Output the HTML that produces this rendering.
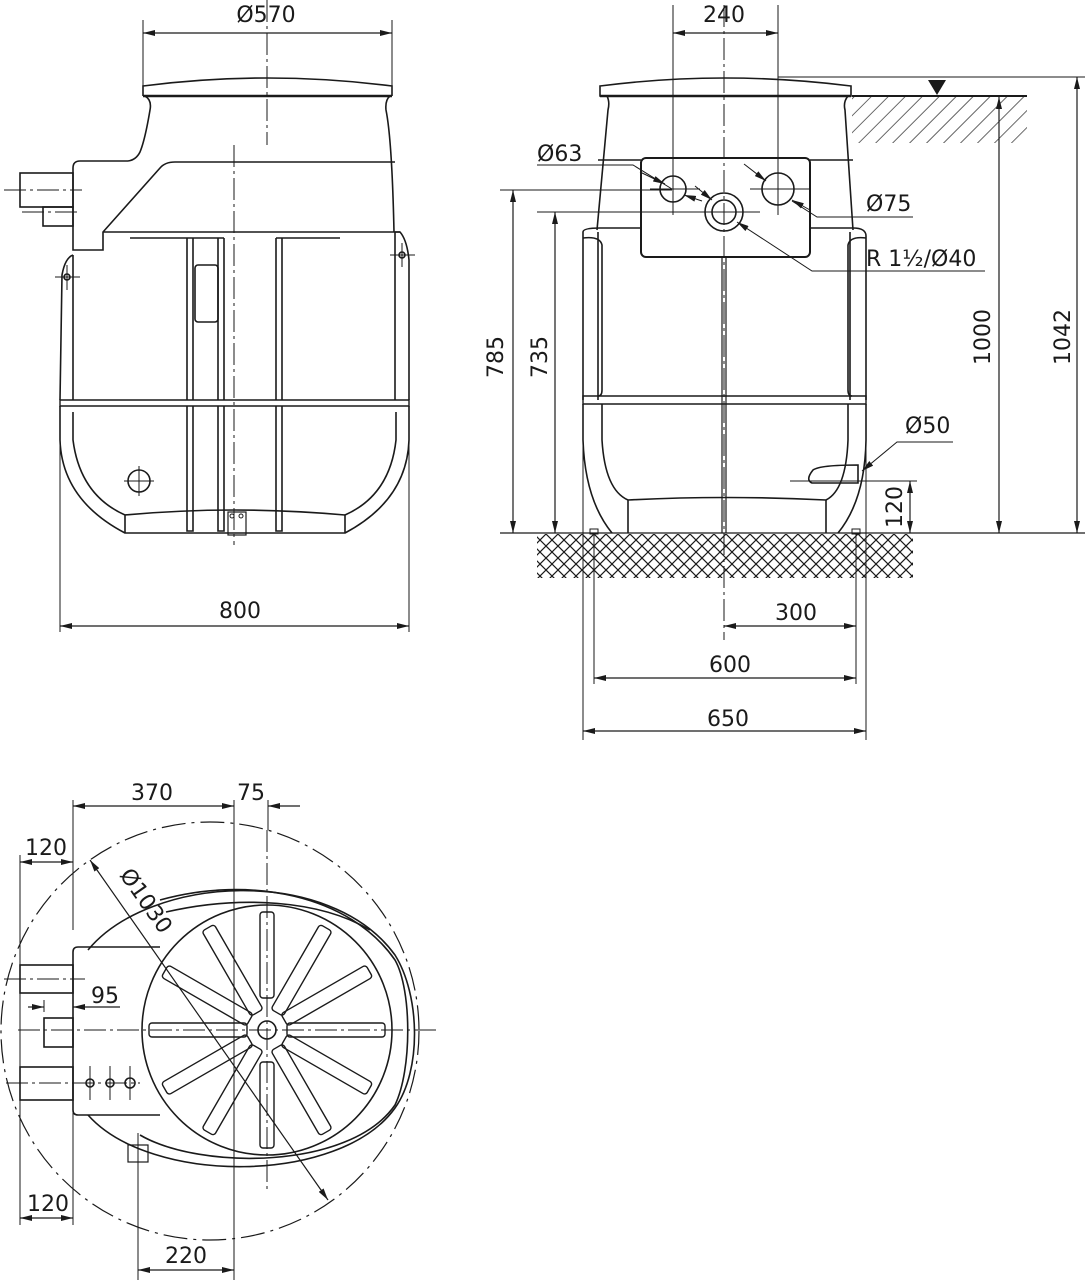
<!DOCTYPE html>
<html><head><meta charset="utf-8"><style>
html,body{margin:0;padding:0;background:#fff}
svg{display:block}
text{font-family:"DejaVu Sans","Liberation Sans",sans-serif;font-size:22px;fill:#1a1a1a}
</style></head><body>
<svg width="1085" height="1280" viewBox="0 0 1085 1280" xmlns="http://www.w3.org/2000/svg">
<defs>
<marker id="a" viewBox="0 0 12 6" refX="12" refY="3" markerWidth="12" markerHeight="6" markerUnits="userSpaceOnUse" orient="auto-start-reverse"><path d="M0,0L12,3L0,6z" fill="#1a1a1a"/></marker>
<pattern id="hx" width="12" height="12" patternUnits="userSpaceOnUse"><path d="M0,0L12,12M12,0L0,12" stroke="#1a1a1a" stroke-width="1.2"/></pattern>
<pattern id="hd" width="12" height="12" patternUnits="userSpaceOnUse" patternTransform="rotate(45)"><path d="M0,0V12" stroke="#1a1a1a" stroke-width="1.3"/></pattern>
</defs>
<g fill="none" stroke="#1a1a1a" stroke-width="1.6">
<!-- ============ LEFT FRONT VIEW ============ -->
<!-- dim 570 -->
<line x1="143" y1="20" x2="143" y2="95" stroke-width="1"/><line x1="392" y1="20" x2="392" y2="95" stroke-width="1"/>
<line x1="143" y1="33" x2="392" y2="33" stroke-width="1.2" marker-start="url(#a)" marker-end="url(#a)"/>
<!-- lid -->
<path d="M143,96 L143,86 Q267,70 392,86 L392,96"/>
<line x1="143" y1="96" x2="392" y2="96" stroke-width="2.4"/>
<path d="M145,96 Q152,100 150,110 Q145,140 140,152 Q136,160 128,161 M390,96 Q385,100 386,110 Q392,140 394,232"/>
<!-- body top block -->
<path d="M128,161 L80,161 Q73,161 73,168 L73,250 L103,250 L103,232 L160,168 Q165,162 175,162 L395,162"/>
<line x1="103" y1="232" x2="400" y2="232"/>
<rect x="20" y="173" width="53" height="34"/><rect x="43" y="207" width="30" height="19"/>
<!-- side flanges -->
<path d="M73,255 Q65,258 62,275 L60,400 M73,255 L73,400"/>
<path d="M395,232 L400,232 Q407,240 409,260 L409,400 M395,232 L395,400"/>
<!-- belt -->
<path d="M60,400 L409,400 L409,406 L60,406 Z" stroke-width="1.4"/>
<!-- ribs -->
<line x1="130" y1="238" x2="187" y2="238"/><line x1="282" y1="238" x2="340" y2="238"/>
<path d="M187,238V400M193,238V400M218,238V400M224,238V400M276,238V400M282,238V400M187,238H224M276,238H282"/>
<path d="M187,406V531H193V406M218,406V531H224V406M276,406V531H282V406"/>
<rect x="195" y="265" width="23" height="57" rx="3"/>
<!-- bowl -->
<path d="M60,406 L60,440 Q62,500 125,533 L345,533 Q407,500 409,440 L409,406"/>
<path d="M73,412 L73,440 Q80,495 125,515 L125,533 M396,412 L396,440 Q390,495 345,515 L345,533"/>
<path d="M125,515 Q234,505 345,515"/>
<circle cx="139" cy="481" r="11"/><path d="M124,481H154M139,466V496" stroke-width="1"/>
<rect x="228" y="512" width="18" height="23" stroke-width="1.2"/>
<circle cx="232" cy="516" r="2" stroke-width="1"/><circle cx="241" cy="516" r="2" stroke-width="1"/>
<!-- handles -->
<circle cx="67" cy="277" r="3"/><path d="M55,277H80M67,265V290" stroke-width="1"/>
<circle cx="402" cy="255" r="3"/><path d="M390,255H415M402,243V267" stroke-width="1"/>
<!-- centerlines -->
<path d="M267,0V145M234,145V545M4,190H82M22,212H78" stroke-width="1" stroke-dasharray="22,4,3,4"/>
<!-- dim 800 -->
<path d="M60,406V632M409,406V632" stroke-width="1"/>
<line x1="60" y1="626" x2="409" y2="626" stroke-width="1.2" marker-start="url(#a)" marker-end="url(#a)"/>

<!-- ============ RIGHT SIDE VIEW ============ -->
<rect x="852" y="97" width="175" height="46" fill="url(#hd)" stroke="none"/>
<rect x="537" y="534" width="376" height="44" fill="url(#hx)" stroke="none"/>
<line x1="778" y1="77" x2="1085" y2="77" stroke-width="1"/>
<line x1="852" y1="96" x2="1027" y2="96" stroke-width="2"/>
<path d="M928,80L946,80L937,95z" fill="#1a1a1a" stroke="none"/>
<line x1="500" y1="533" x2="1085" y2="533" stroke-width="1.2"/>
<!-- dim 240 -->
<path d="M673,5V215M778,5V215" stroke-width="1"/>
<line x1="673" y1="33" x2="778" y2="33" stroke-width="1.2" marker-start="url(#a)" marker-end="url(#a)"/>
<!-- lid -->
<path d="M600,96 L600,86 Q724,70 851,86 L851,96 Z"/>
<line x1="600" y1="96" x2="851" y2="96" stroke-width="2.4"/>
<path d="M607,96 Q610,102 608,110 L597,230 M848,96 Q843,102 845,110 L853,230"/>
<line x1="598" y1="160" x2="641" y2="160"/><line x1="810" y1="160" x2="853" y2="160"/>
<!-- inlet box -->
<rect x="641" y="158" width="169" height="99" rx="5" stroke-width="2"/>
<circle cx="673" cy="189" r="13"/><circle cx="778" cy="189" r="16"/>
<circle cx="724" cy="212" r="19"/><circle cx="724" cy="212" r="12"/>
<!-- body -->
<path d="M583,232 L583,400 M598,232 L598,400 M583,232 Q583,228 600,228 L641,228 M810,228 L853,228 Q866,228 866,236 L866,400 M850,232 L850,400"/>
<path d="M583,238 Q600,236 602,245 L602,390 Q602,396 598,396 M866,238 Q850,236 848,245 L848,390 Q848,396 852,396"/>
<path d="M583,396 L866,396 L866,404 L583,404 Z" stroke-width="1.4"/>
<path d="M722,257V533M726,257V533" stroke-width="1.2"/>
<path d="M583,404 L583,440 Q585,500 612,533 M602,404 L602,440 Q605,490 628,500 L628,533 M628,500 Q724,495 826,500 L826,533 M866,404 L866,440 Q865,500 838,533 M848,404 L848,440 Q846,490 826,500"/>
<path d="M813,470 Q820,465 858,465 L858,483 L812,483 Q805,480 813,470Z"/>
<rect x="590" y="529" width="8" height="5" stroke-width="1"/><rect x="852" y="529" width="8" height="5" stroke-width="1"/>
<!-- centerline -->
<path d="M724,5V640" stroke-width="1" stroke-dasharray="22,4,3,4"/>
<path d="M650,189H700M750,189H810M690,212H760" stroke-width="1"/>
<!-- left dims -->
<line x1="500" y1="190" x2="672" y2="190" stroke-width="1"/>
<line x1="537" y1="212" x2="705" y2="212" stroke-width="1"/>
<line x1="513" y1="190" x2="513" y2="533" stroke-width="1.2" marker-start="url(#a)" marker-end="url(#a)"/>
<line x1="555" y1="212" x2="555" y2="533" stroke-width="1.2" marker-start="url(#a)" marker-end="url(#a)"/>
<line x1="999" y1="97" x2="999" y2="533" stroke-width="1.2" marker-start="url(#a)" marker-end="url(#a)"/>
<line x1="1077" y1="77" x2="1077" y2="533" stroke-width="1.2" marker-start="url(#a)" marker-end="url(#a)"/>
<line x1="790" y1="481" x2="917" y2="481" stroke-width="1"/>
<line x1="910" y1="481" x2="910" y2="533" stroke-width="1.2" marker-start="url(#a)" marker-end="url(#a)"/>
<!-- leaders -->
<path d="M537,165 L633,165 L672,189" stroke-width="1"/>
<line x1="640" y1="172" x2="665" y2="184" stroke-width="1" marker-end="url(#a)"/>
<line x1="702" y1="201" x2="684" y2="195" stroke-width="1" marker-end="url(#a)"/>
<path d="M744,164 L766,181" stroke-width="1" marker-end="url(#a)"/>
<path d="M913,217 L817,217 L792,201" stroke-width="1"/><line x1="810" y1="210" x2="792" y2="200" stroke-width="1" marker-end="url(#a)"/>
<path d="M985,271 L812,271 L737,222" stroke-width="1" marker-end="url(#a)"/>
<line x1="695" y1="186" x2="712" y2="200" stroke-width="1" marker-end="url(#a)"/>
<path d="M953,442 L897,442 L862,471" stroke-width="1" marker-end="url(#a)"/>
<!-- bottom dims -->
<path d="M583,404V740M866,404V740M594,534V684M856,534V684" stroke-width="1"/>
<line x1="724" y1="626" x2="856" y2="626" stroke-width="1.2" marker-start="url(#a)" marker-end="url(#a)"/>
<line x1="594" y1="678" x2="856" y2="678" stroke-width="1.2" marker-start="url(#a)" marker-end="url(#a)"/>
<line x1="583" y1="731" x2="866" y2="731" stroke-width="1.2" marker-start="url(#a)" marker-end="url(#a)"/>

<!-- ============ BOTTOM PLAN VIEW ============ -->
<circle cx="210" cy="1031" r="209" stroke-width="1.2" stroke-dasharray="24,6,3,6"/>
<path d="M88,950 C150,875 330,865 395,955 C420,995 422,1070 395,1108 C340,1185 150,1185 88,1115"/>
<path d="M160,900 C250,875 350,895 395,960 C412,990 412,1070 395,1105 C350,1170 200,1170 140,1135"/>
<path d="M166,912 C240,895 320,900 370,930"/>
<circle cx="267" cy="1030" r="125"/>
<circle cx="267" cy="1030" r="9"/>
<g stroke-width="1.4">
<rect x="287" y="1023" width="98" height="14" rx="3" transform="rotate(0 267 1030)"/>
<rect x="287" y="1023" width="98" height="14" rx="3" transform="rotate(30 267 1030)"/>
<rect x="287" y="1023" width="98" height="14" rx="3" transform="rotate(60 267 1030)"/>
<rect x="299" y="1023" width="86" height="14" rx="3" transform="rotate(90 267 1030)"/>
<rect x="287" y="1023" width="98" height="14" rx="3" transform="rotate(120 267 1030)"/>
<rect x="287" y="1023" width="98" height="14" rx="3" transform="rotate(150 267 1030)"/>
<rect x="287" y="1023" width="98" height="14" rx="3" transform="rotate(180 267 1030)"/>
<rect x="287" y="1023" width="98" height="14" rx="3" transform="rotate(210 267 1030)"/>
<rect x="287" y="1023" width="98" height="14" rx="3" transform="rotate(240 267 1030)"/>
<rect x="299" y="1023" width="86" height="14" rx="3" transform="rotate(270 267 1030)"/>
<rect x="287" y="1023" width="98" height="14" rx="3" transform="rotate(300 267 1030)"/>
<rect x="287" y="1023" width="98" height="14" rx="3" transform="rotate(330 267 1030)"/>
</g>
<!-- left box -->
<path d="M160,947 L78,947 Q73,947 73,952 L73,1110 Q73,1115 78,1115 L160,1115"/>
<rect x="20" y="965" width="53" height="28"/><rect x="44" y="1018" width="29" height="29"/><rect x="20" y="1067" width="53" height="33"/>
<rect x="128" y="1145" width="20" height="17" stroke-width="1.2"/>
<circle cx="90" cy="1083" r="4"/><circle cx="110" cy="1083" r="4"/><circle cx="130" cy="1083" r="5"/>
<path d="M90,1066V1100M110,1066V1100M130,1066V1100" stroke-width="1"/>
<path d="M18,1030H436M267,830V1190M4,979H85M6,1083H140" stroke-width="1" stroke-dasharray="22,4,3,4"/>
<!-- dims -->
<path d="M73,800V930M73,1095V1225M234,800V1280M268,800V830M20,855V1225M138,1133V1280M44,1000V1012" stroke-width="1"/>
<line x1="73" y1="806" x2="234" y2="806" stroke-width="1.2" marker-start="url(#a)" marker-end="url(#a)"/>
<line x1="300" y1="806" x2="268" y2="806" stroke-width="1.2" marker-end="url(#a)"/>
<line x1="20" y1="862" x2="73" y2="862" stroke-width="1.2" marker-start="url(#a)" marker-end="url(#a)"/>
<line x1="20" y1="1218" x2="73" y2="1218" stroke-width="1.2" marker-start="url(#a)" marker-end="url(#a)"/>
<line x1="28" y1="1007" x2="44" y2="1007" stroke-width="1.2" marker-end="url(#a)"/>
<line x1="120" y1="1007" x2="73" y2="1007" stroke-width="1.2" marker-end="url(#a)"/>
<line x1="138" y1="1270" x2="234" y2="1270" stroke-width="1.2" marker-start="url(#a)" marker-end="url(#a)"/>
<line x1="90" y1="860" x2="328" y2="1200" stroke-width="1.2" marker-start="url(#a)" marker-end="url(#a)"/>
</g>
<!-- texts -->
<text x="266" y="22" text-anchor="middle">Ø570</text>
<text x="240" y="618" text-anchor="middle">800</text>
<text x="724" y="22" text-anchor="middle">240</text>
<text x="537" y="161">Ø63</text>
<text x="866" y="211">Ø75</text>
<text x="866" y="266">R 1½/Ø40</text>
<text x="905" y="433">Ø50</text>
<text x="796" y="620" text-anchor="middle">300</text>
<text x="730" y="672" text-anchor="middle">600</text>
<text x="728" y="726" text-anchor="middle">650</text>
<text transform="translate(503,357) rotate(-90)" text-anchor="middle">785</text>
<text transform="translate(547,357) rotate(-90)" text-anchor="middle">735</text>
<text transform="translate(990,337) rotate(-90)" text-anchor="middle">1000</text>
<text transform="translate(1070,337) rotate(-90)" text-anchor="middle">1042</text>
<text transform="translate(902,507) rotate(-90)" text-anchor="middle">120</text>
<text x="152" y="800" text-anchor="middle">370</text>
<text x="251" y="800" text-anchor="middle">75</text>
<text x="46" y="855" text-anchor="middle">120</text>
<text x="48" y="1211" text-anchor="middle">120</text>
<text x="105" y="1003" text-anchor="middle">95</text>
<text x="186" y="1263" text-anchor="middle">220</text>
<text transform="translate(140,905) rotate(55)" text-anchor="middle">Ø1030</text>
</svg>
</body></html>
